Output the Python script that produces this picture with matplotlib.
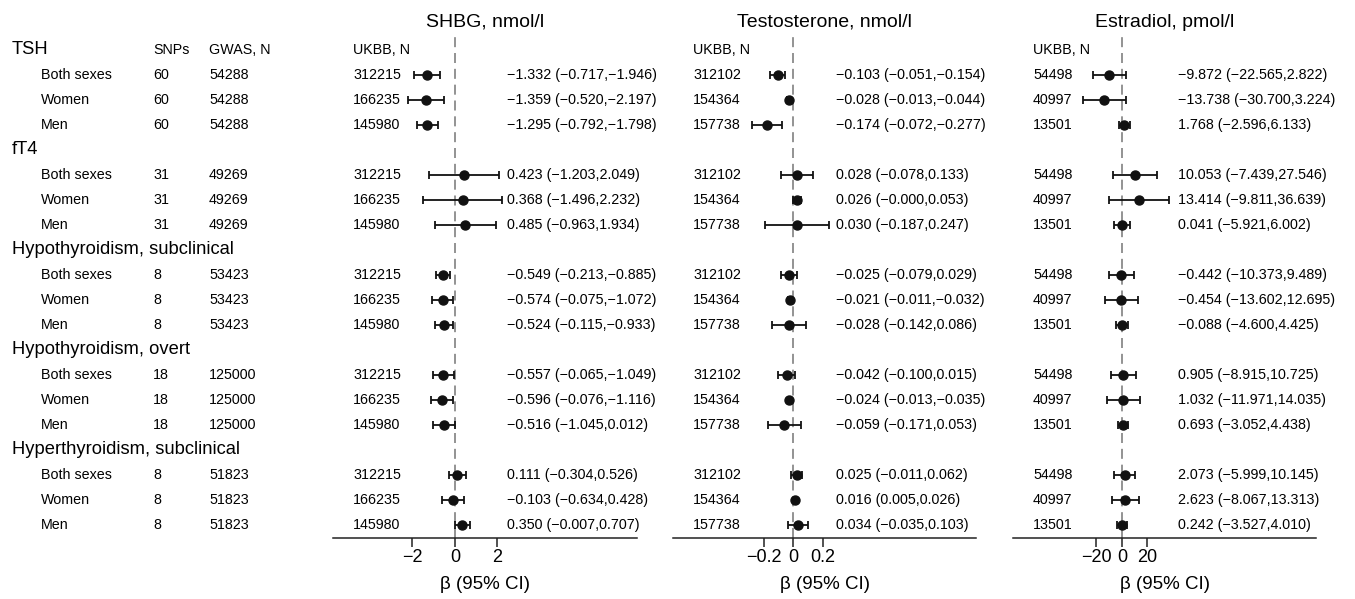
import numpy as np
import matplotlib
matplotlib.use("Agg")
import matplotlib.pyplot as plt
from matplotlib.transforms import blended_transform_factory

plt.rcParams['font.family'] = ['Liberation Sans', 'DejaVu Sans']

# exposures, instruments and GWAS sizes
exposures = ["TSH", "fT4", "Hypothyroidism, subclinical",
             "Hypothyroidism, overt", "Hyperthyroidism, subclinical"]
snps = [60, 31, 8, 18, 8]
gwas_n = [54288, 49269, 53423, 125000, 51823]
strata = ["Both sexes", "Women", "Men"]

# outcome panels
titles = ["SHBG, nmol/l", "Testosterone, nmol/l", "Estradiol, pmol/l"]
ukbb_n = [[312215, 166235, 145980],
          [312102, 154364, 157738],
          [54498, 40997, 13501]]

shbg_est = [-1.332, -1.359, -1.295, 0.423, 0.368, 0.485, -0.549, -0.574, -0.524,
            -0.557, -0.596, -0.516, 0.111, -0.103, 0.350]
shbg_lo = [-0.717, -0.520, -0.792, -1.203, -1.496, -0.963, -0.213, -0.075, -0.115,
           -0.065, -0.076, -1.045, -0.304, -0.634, -0.007]
shbg_hi = [-1.946, -2.197, -1.798, 2.049, 2.232, 1.934, -0.885, -1.072, -0.933,
           -1.049, -1.116, 0.012, 0.526, 0.428, 0.707]

testo_est = [-0.103, -0.028, -0.174, 0.028, 0.026, 0.030, -0.025, -0.021, -0.028,
             -0.042, -0.024, -0.059, 0.025, 0.016, 0.034]
testo_lo = [-0.051, -0.013, -0.072, -0.078, -0.0, -0.187, -0.079, -0.011, -0.142,
            -0.100, -0.013, -0.171, -0.011, 0.005, -0.035]
testo_hi = [-0.154, -0.044, -0.277, 0.133, 0.053, 0.247, 0.029, -0.032, 0.086,
            0.015, -0.035, 0.053, 0.062, 0.026, 0.103]

estr_est = [-9.872, -13.738, 1.768, 10.053, 13.414, 0.041, -0.442, -0.454, -0.088,
            0.905, 1.032, 0.693, 2.073, 2.623, 0.242]
estr_lo = [-22.565, -30.700, -2.596, -7.439, -9.811, -5.921, -10.373, -13.602, -4.600,
           -8.915, -11.971, -3.052, -5.999, -8.067, -3.527]
estr_hi = [2.822, 3.224, 6.133, 27.546, 36.639, 6.002, 9.489, 12.695, 4.425,
           10.725, 14.035, 4.438, 10.145, 13.313, 4.010]

panels = [(shbg_est, shbg_lo, shbg_hi), (testo_est, testo_lo, testo_hi),
          (estr_est, estr_lo, estr_hi)]
xlims = [(-5.741, 8.565), (-0.8136, 1.2407), (-85.5, 152.2)]
xticks = [[-2, 0, 2], [-0.2, 0, 0.2], [-20, 0, 20]]
xticklabels = [["−2", "0", "2"], ["−0.2", "0", "0.2"], ["−20", "0", "20"]]
# panel placement in pixels
lefts = [333, 673, 1013]
widths = [304, 303, 303]
est_text_x = [507, 836, 1178]


def fmt(v):
    return f"{v:.3f}".replace("-", "−")


W, H = 1355, 599
fig = plt.figure(figsize=(W / 100, H / 100), dpi=100)

# row positions: header row then three strata per exposure
header_rows = [4 * g for g in range(len(exposures))]
data_rows = [4 * g + 1 + s for g in range(len(exposures)) for s in range(3)]
ylim = (19.52, -0.6)
body = 10.3
big = 13.2

axes = []
for k in range(3):
    ax = fig.add_axes([lefts[k] / W, 1 - 538 / H, widths[k] / W, (538 - 35) / H])
    axes.append(ax)
    est, lo, hi = panels[k]
    est = np.array(est)
    lo_ = np.minimum(lo, hi)
    hi_ = np.maximum(lo, hi)
    ax.axvline(0, color="#808080", lw=1.2, dashes=(6, 3.5), zorder=1)
    ax.errorbar(est, data_rows, xerr=[est - lo_, hi_ - est], fmt="o", color="#111111",
                ms=6.5, elinewidth=1.3, capsize=3, capthick=1.3, zorder=3)
    ax.set_xlim(*xlims[k])
    ax.set_ylim(*ylim)
    for sp in ["top", "left", "right"]:
        ax.spines[sp].set_visible(False)
    ax.spines["bottom"].set_linewidth(1.1)
    ax.spines["bottom"].set_color("#222222")
    ax.set_yticks([])
    ax.set_xticks(xticks[k])
    ax.set_xticklabels(xticklabels[k])
    ax.tick_params(axis="x", direction="out", length=6.5, width=1.1, pad=1.5,
                   labelsize=13, color="#222222")
    ax.set_xlabel("β (95% CI)", fontsize=13.5, labelpad=7)
    ax.set_title(titles[k], fontsize=14, pad=6)

    tr = blended_transform_factory(ax.transAxes, ax.transData)
    ax.text(20 / widths[k], 0, "UKBB, N", transform=tr, fontsize=body,
            va="center", ha="left", clip_on=False)
    for g in range(len(exposures)):
        for s in range(3):
            i = 3 * g + s
            row = data_rows[i]
            ax.text(20 / widths[k], row, str(ukbb_n[k][s]), transform=tr,
                    fontsize=body, va="center", ha="left", clip_on=False)
            label = f"{fmt(panels[k][0][i])} ({fmt(panels[k][1][i])},{fmt(panels[k][2][i])})"
            ax.text((est_text_x[k] - lefts[k]) / widths[k], row, label, transform=tr,
                    fontsize=body, va="center", ha="left", clip_on=False)

# left-hand table
trl = blended_transform_factory(fig.transFigure, axes[0].transData)
fig.text(153 / W, 0, "SNPs", transform=trl, fontsize=body, va="center")
fig.text(209 / W, 0, "GWAS, N", transform=trl, fontsize=body, va="center")
for g, name in enumerate(exposures):
    fig.text(12 / W, header_rows[g], name, transform=trl, fontsize=big, va="center")
    for s, st in enumerate(strata):
        row = data_rows[3 * g + s]
        fig.text(41 / W, row, st, transform=trl, fontsize=body, va="center")
        fig.text(153 / W, row, str(snps[g]), transform=trl, fontsize=body, va="center")
        fig.text(209 / W, row, str(gwas_n[g]), transform=trl, fontsize=body, va="center")

fig.savefig("out.png", dpi=100)
